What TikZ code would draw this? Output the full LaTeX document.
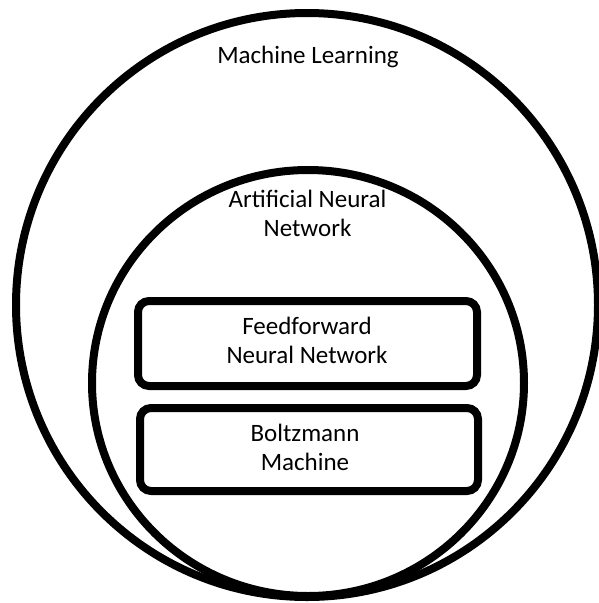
\documentclass[tikz,border=0pt]{standalone}
\usepackage{fontspec}
\setmainfont{Carlito}
\usetikzlibrary{shapes.geometric}
\begin{document}
\begin{tikzpicture}[x=1pt,y=-1pt,
  ring/.style={draw=black,line width=8pt,ellipse,inner sep=0pt,outer sep=0pt},
  box/.style={draw=black,line width=8pt,rectangle,rounded corners=11pt,inner sep=0pt,outer sep=0pt},
  lbl/.style={align=center,font=\fontsize{25}{29}\selectfont,inner sep=0pt,anchor=base}]
\useasboundingbox[fill=white] (0,0) rectangle (598,603);
\node[ring,minimum width=582pt,minimum height=584pt] (ml) at (307,305) {};
\node[ring,minimum width=432pt,minimum height=426pt] (ann) at (308,383) {};
\node[box,minimum width=339pt,minimum height=85pt] (ffn) at (307.5,343.5) {};
\node[box,minimum width=338pt,minimum height=83pt] (bm) at (309,449.5) {};
\node[lbl] (mlt) at (308,63) {Machine Learning};
\node[lbl] (annt) at (307.5,236) {Artificial Neural\\Network};
\node[lbl] (ffnt) at (307,363) {Feedforward\\Neural Network};
\node[lbl] (bmt) at (305,470) {Boltzmann\\Machine};
\end{tikzpicture}
\end{document}
